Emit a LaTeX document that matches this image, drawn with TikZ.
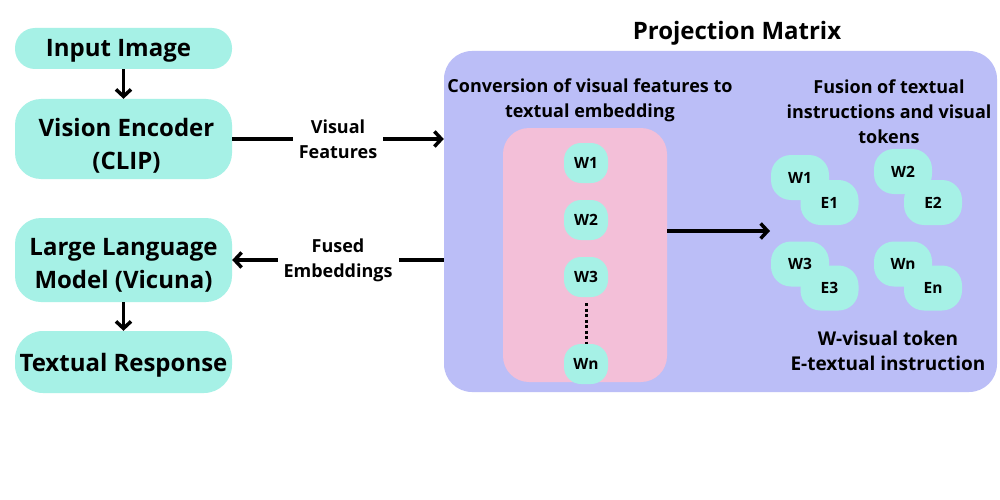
\documentclass[tikz,border=0pt]{standalone}
\usepackage{fontspec}
\setmainfont{Open Sans}
\usetikzlibrary{arrows.meta}
\definecolor{tok}{HTML}{A6F1E6}
\definecolor{pmc}{HTML}{BBBEF7}
\definecolor{pk}{HTML}{F3BFD8}
\begin{document}
\begin{tikzpicture}[x=1pt,y=-1pt,
  stage/.style={fill=tok, minimum width=217pt, inner sep=0pt},
  stxt/.style={align=center, inner sep=0pt, font=\bfseries\fontsize{24}{33}\selectfont},
  arr/.style={line width=3.5pt, -{Straight Barb[length=7pt,width=15pt,line width=3.5pt]}},
  lbl/.style={fill=white, inner sep=6pt, align=center, font=\bfseries\fontsize{18}{25}\selectfont},
  head/.style={align=center, inner sep=0pt, font=\bfseries\fontsize{18}{25}\selectfont},
  wtok/.style={fill=tok, minimum width=44pt, minimum height=40pt, rounded corners=17pt, inner sep=0pt,
    font=\bfseries\fontsize{15.5}{18}\selectfont},
  pair/.style={fill=tok, minimum width=58pt, minimum height=45pt, rounded corners=20pt, inner sep=0pt,
    font=\bfseries\fontsize{15.5}{18}\selectfont}]
\fill[white] (0,0) rectangle (1000,500);
\useasboundingbox (0,0) rectangle (1000,500);
% left column
\node[stage, minimum height=41pt, rounded corners=20pt,
  label={[stxt, xshift=-5pt, yshift=-2pt]center:Input Image}] (inp) at (123.5,48.5) {};
\node[stage, minimum height=80pt, rounded corners=26pt,
  label={[stxt, xshift=3pt, yshift=-7pt]center:{Vision Encoder\\(CLIP)}}] (ve) at (123.5,139) {};
\node[stage, minimum height=84pt, rounded corners=26pt,
  label={[stxt, yshift=-5pt]center:{Large Language\\Model (Vicuna)}}] (llm) at (123.5,260) {};
\node[stage, minimum height=62pt, rounded corners=28pt,
  label={[stxt, yshift=-3pt]center:Textual Response}] (tr) at (123.5,362) {};
\draw[arr] (inp) -- (ve);
\draw[arr] (llm) -- (tr);
% projection matrix
\node[fill=pmc, rounded corners=28pt, minimum width=553pt, minimum height=341pt, inner sep=0pt] (pm) at (720.5,221.5) {};
\node[font=\bfseries\fontsize{24}{30}\selectfont, inner sep=0pt] (title) at (737,33) {Projection Matrix};
\draw[arr] (ve) -- (pm.west |- ve) node[lbl, midway] (vf) {Visual\\Features};
\draw[arr] (pm.west |- llm) -- (llm) node[lbl, midway] (fe) {Fused\\Embeddings};
\node[head] (conv) at (590,100) {Conversion of visual features to\\textual embedding};
\node[head] (fus) at (889,112) {Fusion of textual\\instructions and visual\\tokens};
\node[fill=pk, rounded corners=26pt, minimum width=164pt, minimum height=254pt, inner sep=0pt] (pink) at (585,255) {};
\node[wtok] (w1) at (586,163) {W1};
\node[wtok] (w2) at (586,220) {W2};
\node[wtok] (w3) at (586,277) {W3};
\node[wtok] (wn) at (586,364) {Wn};
\draw[line width=3pt, dash pattern=on 3pt off 2.5pt, shorten <=6pt] (w3) -- (wn);
\coordinate (fend) at (770,231);
\draw[arr] (pink.east |- fend) -- (fend);
% pairs
\node[pair] (p1w) at (800,177.5) {W1};
\node[pair] (p1e) at (829.5,202.5) {E1};
\node[pair] (p2w) at (903,171.5) {W2};
\node[pair] (p2e) at (933,202.5) {E2};
\node[pair] (p3w) at (800,264) {W3};
\node[pair] (p3e) at (829.5,288) {E3};
\node[pair] (p4w) at (903,264) {Wn};
\node[pair] (p4e) at (933,288) {En};
\node[align=center, inner sep=0pt, font=\bfseries\fontsize{19}{25}\selectfont] (leg) at (888,351) {W-visual token\\E-textual instruction};
\end{tikzpicture}
\end{document}
